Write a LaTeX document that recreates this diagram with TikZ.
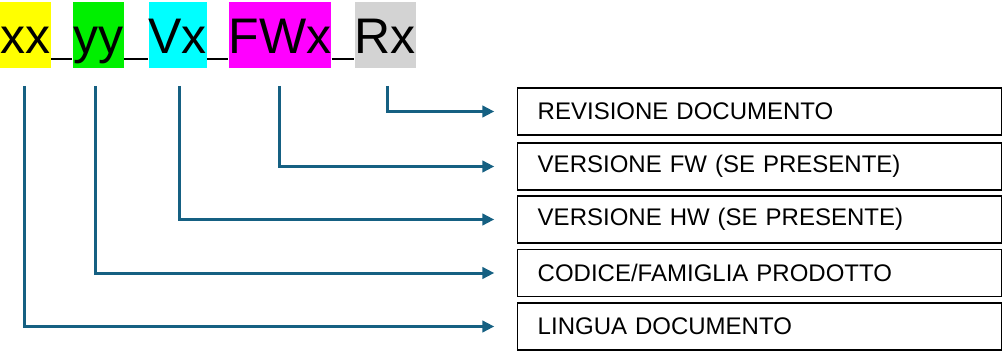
\documentclass[tikz,border=0pt]{standalone}
\usepackage{fontspec}
\setmainfont{Liberation Sans}
\usetikzlibrary{arrows.meta}

\definecolor{tealblue}{RGB}{21,96,130}
\definecolor{hlyellow}{RGB}{255,255,0}
\definecolor{hlgreen}{RGB}{0,240,0}
\definecolor{hlcyan}{RGB}{0,255,255}
\definecolor{hlmagenta}{RGB}{255,0,255}
\definecolor{hlgray}{RGB}{211,211,211}

\tikzset{every picture/.style={line width=0.75pt}}
\tikzset{
  code/.style={anchor=north west, inner sep=0pt, minimum height=49.5pt, text height=38.25pt, text depth=11.25pt, font=\fontsize{37.5}{37.5}\selectfont},
  uscore/.style={line width=2pt, black},
  field/.style={draw, line width=1.1pt, anchor=west, minimum width=363pt, minimum height=35.25pt, inner xsep=15pt, text width=333pt, align=left, font=\fontsize{18}{18}\selectfont},
  conn/.style={draw=tealblue, line width=2.25pt, -{Triangle[length=9pt,width=8.5pt]}}
}

\begin{document}
\begin{tikzpicture}[x=0.75pt,y=0.75pt,yscale=-1,xscale=1]
\useasboundingbox (0,0) rectangle (1004,353);

% Text Node
\node [code, fill=hlyellow, minimum width=35.25pt] (xx) at (0,2) {xx};
% Text Node
\node [code, fill=hlgreen, minimum width=38.25pt] (yy) at (72,2) {yy};
% Text Node
\node [code, fill=hlcyan, minimum width=41.25pt] (vx) at (148,2) {Vx};
% Text Node
\node [code, fill=hlmagenta, minimum width=75.75pt] (fwx) at (228,2) {FWx};
% Text Node
\node [code, fill=hlgray, minimum width=42pt] (rx) at (354,2) {Rx};

%Straight Lines
\draw [uscore] ([yshift=-7.5pt]xx.south east) -- ([yshift=-7.5pt]yy.south west) ;
\draw [uscore] ([yshift=-7.5pt]yy.south east) -- ([yshift=-7.5pt]vx.south west) ;
\draw [uscore] ([yshift=-7.5pt]vx.south east) -- ([yshift=-7.5pt]fwx.south west) ;
\draw [uscore] ([yshift=-7.5pt]fwx.south east) -- ([yshift=-7.5pt]rx.south west) ;

%Shape: Rectangle
\node [field] (revisione) at (517,111.5) {REVISIONE DOCUMENTO};
%Shape: Rectangle
\node [field] (versionefw) at (517,166.5) {VERSIONE FW (SE PRESENTE)};
%Shape: Rectangle
\node [field] (versionehw) at (517,219.5) {VERSIONE HW (SE PRESENTE)};
%Shape: Rectangle
\node [field] (codice) at (517,273) {CODICE/FAMIGLIA PRODOTTO};
%Shape: Rectangle
\node [field] (lingua) at (517,326.5) {LINGUA DOCUMENTO};

%Straight Lines
\draw [conn] ([xshift=-1pt,yshift=12.75pt]xx.south) |- ([xshift=-17pt]lingua.west) ;
\draw [conn] ([xshift=-2pt,yshift=12.75pt]yy.south) |- ([xshift=-17pt]codice.west) ;
\draw [conn] ([xshift=1pt,yshift=12.75pt]vx.south) |- ([xshift=-17pt]versionehw.west) ;
\draw [conn] ([yshift=12.75pt]fwx.south) |- ([xshift=-17pt]versionefw.west) ;
\draw [conn] ([xshift=2pt,yshift=12.75pt]rx.south) |- ([xshift=-17pt]revisione.west) ;

\end{tikzpicture}
\end{document}
